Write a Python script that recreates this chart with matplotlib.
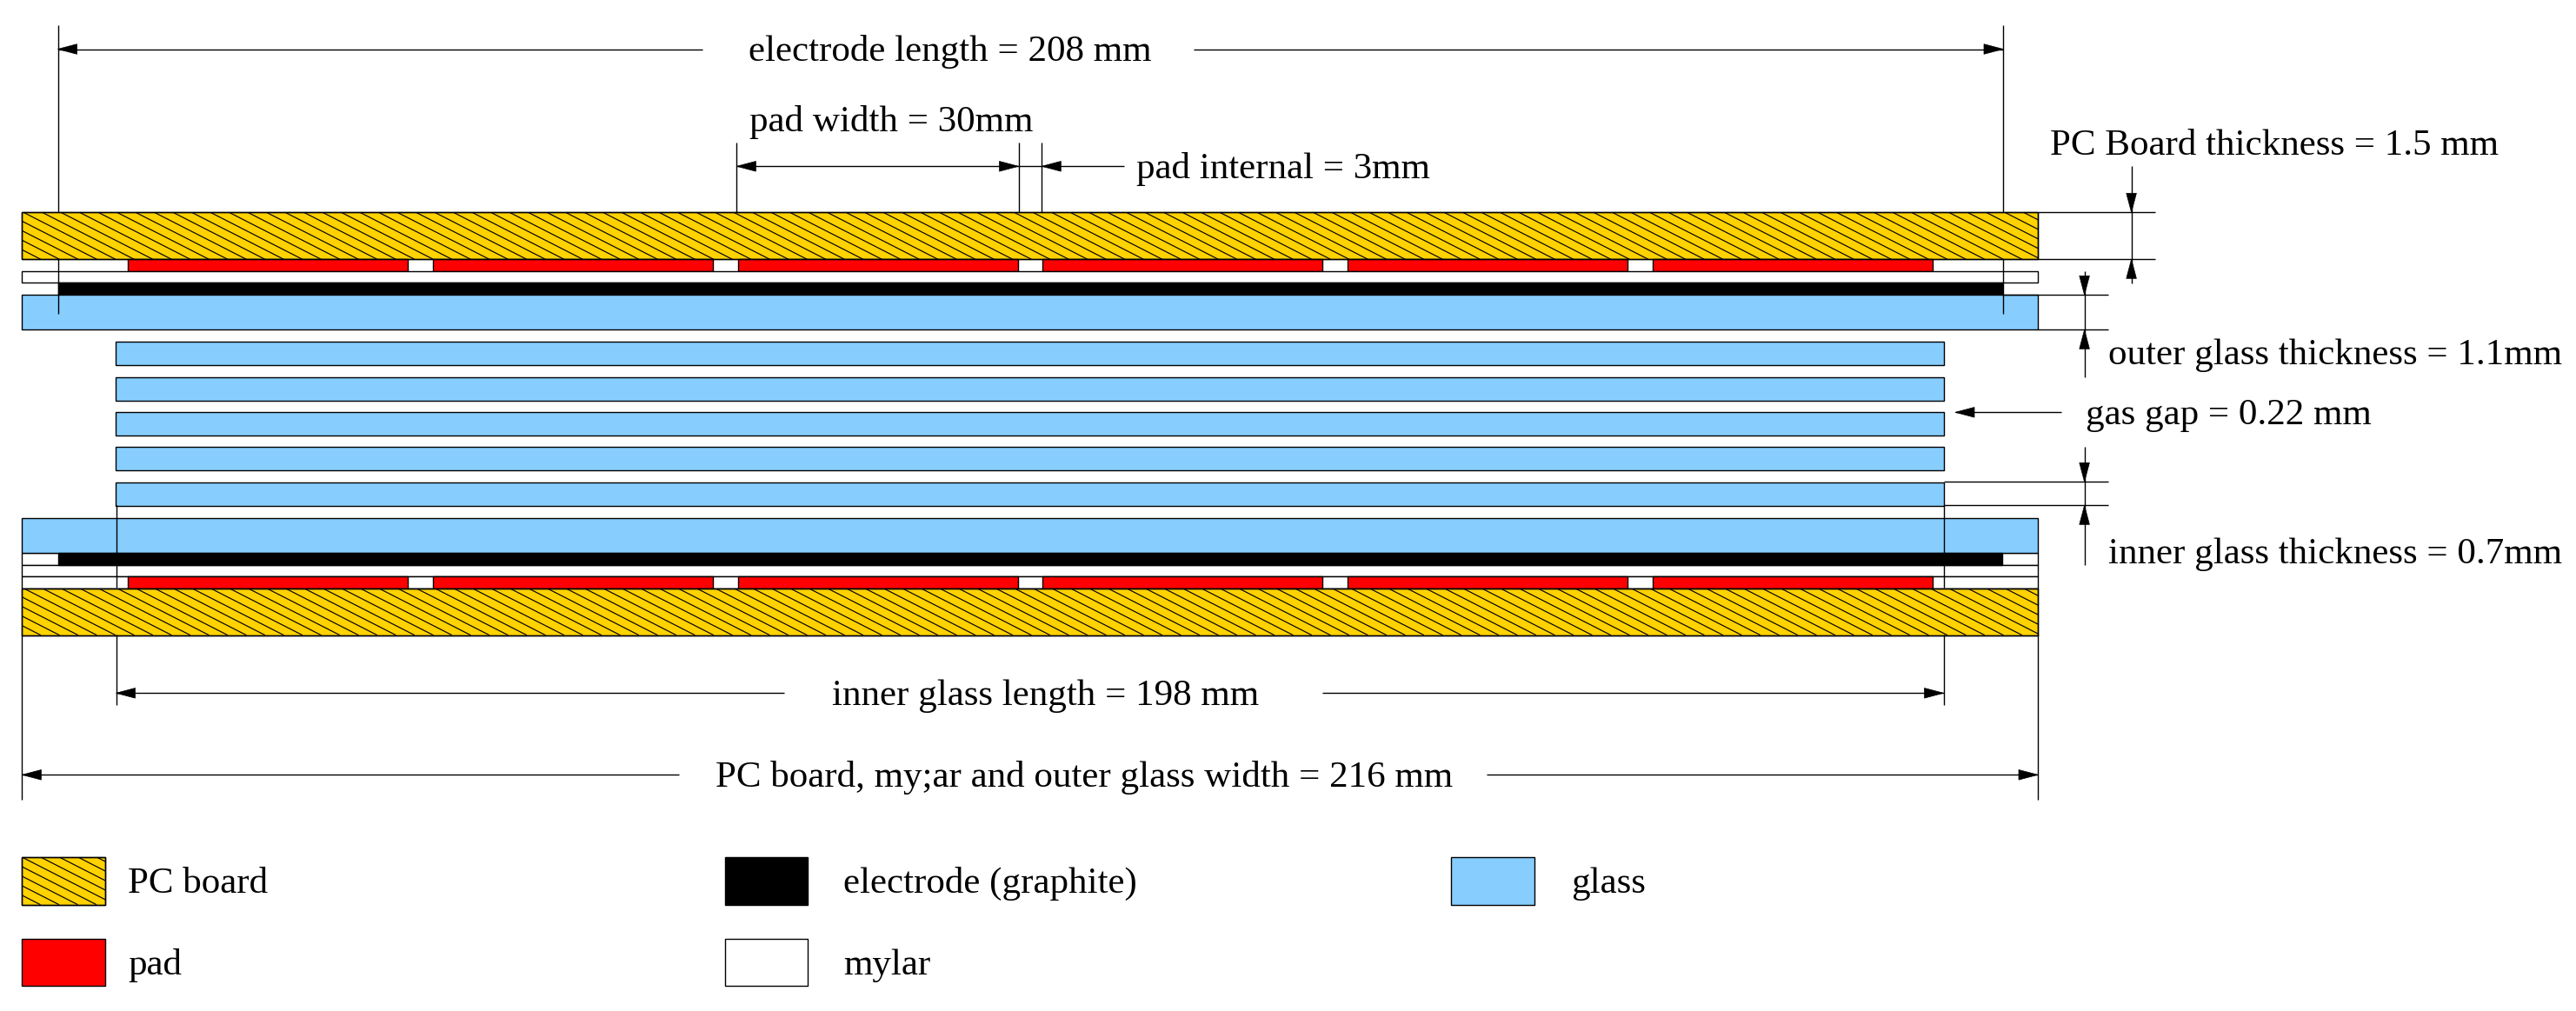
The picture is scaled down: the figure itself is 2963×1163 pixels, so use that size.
#!/usr/bin/env python3
import numpy as np
import matplotlib
matplotlib.use("Agg")
import matplotlib.pyplot as plt
from matplotlib.collections import LineCollection
from matplotlib.patches import Polygon, Rectangle
from matplotlib.transforms import Affine2D, IdentityTransform

W, H = 2963, 1163
SX, SY = 10.735, 36.0        # px per mm, the drawing is not to scale in y
X0, Y0 = 25.4, 244.3         # image position of the top left PCB corner

# widths along the chamber, mm from the left PCB edge
pcb_width = 216.0
electrode_span = (3.85, 212.2)
inner_span = (10.06, 205.9)
pad_starts = [11.35, 44.02, 76.69, 109.36, 142.03, 174.70]
pad_width = 30.0

# layer heights as drawn, top to bottom
t_pcb = 1.5
t_pad = 0.39
t_mylar = 0.36
t_electrode = 0.39
t_outer = 1.11
t_gap_edge = 0.39
t_inner = 0.75
t_gap = 0.37
n_inner = 5

COL_PCB = "#FFD200"
COL_PAD = "#FF0000"
COL_GLASS = "#87CEFF"
LW = 1.0

labels = [
    ("electrode length = 208 mm", 861, 70),
    ("pad width = 30mm", 862, 151),
    ("pad internal = 3mm", 1307, 205),
    ("PC Board thickness = 1.5 mm", 2358, 178),
    ("outer glass thickness = 1.1mm", 2425, 419),
    ("gas gap = 0.22 mm", 2399, 488),
    ("inner glass thickness = 0.7mm", 2425, 648),
    ("inner glass length = 198 mm", 957, 811),
    ("PC board, my;ar and outer glass width = 216 mm", 823, 905),
    ("PC board", 147, 1027),
    ("pad", 147, 1121),
    ("electrode (graphite)", 970, 1027),
    ("mylar", 970, 1121),
    ("glass", 1807, 1027),
]

fig = plt.figure(figsize=(W / 100, H / 100), dpi=100)
ax = fig.add_axes([0, 0, 1, 1])
ax.set_xlim(-X0 / SX, (W - X0) / SX)
ax.set_ylim((H - Y0) / SY, -Y0 / SY)
ax.axis("off")

# image pixel coordinates, for the annotations
pix = Affine2D().scale(1, -1).translate(0, H)


def box(x0, x1, y0, y1, fc, z=2, trans=None):
    r = Rectangle((x0, y0), x1 - x0, y1 - y0, facecolor=fc, edgecolor="k",
                  linewidth=LW, zorder=z,
                  transform=trans if trans is not None else ax.transData)
    ax.add_patch(r)
    return r


def hatched(x0, x1, y0, y1, trans=None):
    "Gold box with the shallow diagonal hatch of the original"
    r = box(x0, x1, y0, y1, COL_PCB, trans=trans)
    tr = trans if trans is not None else ax.transData
    (a, b), (c, d) = tr.transform([(x0, y0), (x1, y1)])
    a, c = min(a, c), max(a, c)
    b, d = min(b, d), max(b, d)
    segs = []
    step = 21.5
    slope = 0.51
    for s in np.arange(a - (d - b) / slope - step, c + step, step):
        segs.append([(s, d), (s + (d - b) / slope, b)])
    lc = LineCollection(segs, colors="k", linewidths=0.85, zorder=3)
    ax.add_collection(lc, autolim=False)
    lc.set_transform(IdentityTransform())
    lc.set_clip_path(r)
    # outline on top of the hatch
    return box(x0, x1, y0, y1, "none", z=4, trans=trans)


def pline(xs, ys, z=5):
    ax.plot(xs, ys, color="k", lw=LW, transform=pix, zorder=z,
            solid_capstyle="butt", scalex=False, scaley=False)


def head(x, y, direction, length=22, half=5.8):
    "Filled arrow head with its tip at x, y (image pixels)"
    dx, dy = {"l": (1, 0), "r": (-1, 0), "u": (0, 1), "d": (0, -1)}[direction]
    bx, by = x + dx * length, y + dy * length
    px, py = -dy * half, dx * half
    ax.add_patch(Polygon([(x, y), (bx + px, by + py), (bx - px, by - py)],
                         closed=True, facecolor="k", edgecolor="k",
                         linewidth=0.5, transform=pix, zorder=6))


# upper stack
y = 0.0
hatched(0, pcb_width, y, y + t_pcb)
y += t_pcb
for s in pad_starts:
    box(s, s + pad_width, y, y + t_pad, COL_PAD)
y += t_pad
box(0, pcb_width, y, y + t_mylar, "white")
y += t_mylar
box(*electrode_span, y, y + t_electrode, "k")
y += t_electrode
box(0, pcb_width, y, y + t_outer, COL_GLASS)
y += t_outer + t_gap_edge

# inner glass stack
for i in range(n_inner):
    box(*inner_span, y, y + t_inner, COL_GLASS)
    y += t_inner
    if i < n_inner - 1:
        y += t_gap
y += t_gap_edge

# lower stack
box(0, pcb_width, y, y + t_outer, COL_GLASS)
y += t_outer
box(0, pcb_width, y, y + t_electrode, "white", z=1)
box(*electrode_span, y, y + t_electrode, "k")
y += t_electrode
box(0, pcb_width, y, y + t_mylar, "white", z=1)
y += t_mylar
box(0, pcb_width, y, y + t_pad, "white", z=1)
for s in pad_starts:
    box(s, s + pad_width, y, y + t_pad, COL_PAD)
y += t_pad
hatched(0, pcb_width, y, y + t_pcb)

# extension lines
x_el0, x_el1, x_in0, x_in1 = 66.5, 2304, 133.5, 2235.5
x_l, x_r = 25.4, 2344
for x in (x_el0, x_el1):
    pline([x, x], [29, 244])
    pline([x, x], [298, 361])
pline([847.4, 847.4], [164, 244])
pline([1171.5, 1171.5], [164, 244])
pline([1198.3, 1198.3], [164, 244])
for x in (x_in0, x_in1):
    pline([x, x], [581, 649], z=3)
    pline([x, x], [649, 676], z=1.5)
    pline([x, x], [730, 811])
pline([x_l, x_l], [730, 920])
pline([x_r, x_r], [730, 920])

# electrode length
pline([x_el0, 808], [56.5, 56.5])
pline([1373, x_el1], [56.5, 56.5])
head(x_el0, 56.5, "l")
head(x_el1, 56.5, "r")
# pad width / pad internal
pline([847.4, 1171.5], [191.3, 191.3])
pline([1171.5, 1293], [191.3, 191.3])
head(847.4, 191.3, "l")
head(1171.5, 191.3, "r")
head(1198.3, 191.3, "l")
# PC board thickness
pline([2344, 2479], [244.3, 244.3])
pline([2344, 2479], [298.3, 298.3])
pline([2451.6, 2451.6], [191, 325.7])
head(2451.6, 244.3, "d")
head(2451.6, 298.3, "u")
# outer glass thickness
pline([2304, 2425], [339.3, 339.3])
pline([2344, 2425], [379.3, 379.3])
pline([2397.6, 2397.6], [312.3, 433.7])
head(2397.6, 339.3, "d")
head(2397.6, 379.3, "u")
# gas gap
pline([2249, 2371], [474.3, 474.3])
head(2249, 474.3, "l")
# inner glass thickness
pline([x_in1, 2425], [554.3, 554.3])
pline([x_in1, 2425], [581.3, 581.3])
pline([2397.6, 2397.6], [514, 649.7])
head(2397.6, 554.3, "d")
head(2397.6, 581.3, "u")
# inner glass length
pline([x_in0, 902], [797.3, 797.3])
pline([1521, x_in1], [797.3, 797.3])
head(x_in0, 797.3, "l")
head(x_in1, 797.3, "r")
# total width
pline([x_l, 781], [891.3, 891.3])
pline([1710, x_r], [891.3, 891.3])
head(x_l, 891.3, "l")
head(x_r, 891.3, "r")

# legend swatches
hatched(25, 120.5, 986, 1040.7, trans=pix)
box(25, 120.5, 1080.3, 1134.3, COL_PAD, trans=pix)
box(834, 928.6, 986, 1040.7, "k", trans=pix)
box(834, 928.6, 1080.3, 1134.3, "white", trans=pix)
box(1669, 1765, 986, 1040.7, COL_GLASS, trans=pix)

for s, x, yy in labels:
    ax.text(x, yy, s, transform=pix, family="Liberation Serif", fontsize=31,
            ha="left", va="baseline", color="k", zorder=7)

fig.savefig("out.png", dpi=100)
